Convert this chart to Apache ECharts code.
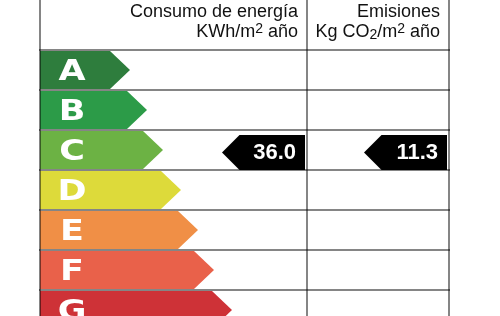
<!DOCTYPE html>
<html><head><meta charset="utf-8">
<script src="https://cdn.jsdelivr.net/npm/echarts@6/dist/echarts.min.js"></script>
<style>html,body{margin:0;padding:0;background:#fff}#c{width:500px;height:316px}</style>
</head><body><div id="c"></div>
<script>
const categories = ['A', 'B', 'C', 'D', 'E', 'F', 'G'];
const arrowLengths = [90, 107, 123, 141, 158, 174, 192];
const ratingColors = ['#2e7d3d', '#2c9b48', '#6cb244', '#ddda3a', '#f08f46', '#e9614a', '#ce3237'];
const columnEdges = [0, 267, 409];
const columnTitles = [
  '{n|Consumo de energía}\n{n|KWh/m}{sup|2}{n| año}',
  '{n|Emisiones}\n{n|Kg CO}{sub|2}{n|/m}{sup|2}{n| año}'
];
const markerRatings = ['C', 'C'];
const markerValues = [36.0, 11.3];

const chart = echarts.init(document.getElementById('c'), null, { renderer: 'canvas' });
const lineColor = 'rgba(0,0,0,0.48)';
const headerRich = {
  n: { fontSize: 18, lineHeight: 20, fontFamily: 'Liberation Sans', fill: '#111', color: '#111' },
  sup: { fontSize: 14, lineHeight: 14, verticalAlign: 'top', fontFamily: 'Liberation Sans', fill: '#111', color: '#111' },
  sub: { fontSize: 14, lineHeight: 11, verticalAlign: 'bottom', fontFamily: 'Liberation Sans', fill: '#111', color: '#111' }
};

chart.setOption({
  animation: false,
  grid: { left: 40, top: 0, width: 409, height: 316 },
  xAxis: { type: 'value', min: 0, max: 409, show: false },
  yAxis: { type: 'value', min: -1.25, max: 6.65, inverse: true, show: false },
  series: [
    {
      type: 'custom', clip: false, z: 1,
      data: categories.map((c, i) => [i, arrowLengths[i]]),
      renderItem(params, api) {
        const i = api.value(0), len = api.value(1);
        const p0 = api.coord([0, i]);
        const p1 = api.coord([len, i + 1]);
        const top = p0[1] + 1, bot = p1[1] - 1, mid = (top + bot) / 2, half = (bot - top) / 2;
        const x0 = p0[0], tip = p1[0], re = tip - half - 1;
        return {
          type: 'group', children: [
            { type: 'polygon', shape: { points: [[x0, top], [re, top], [tip, mid], [re, bot], [x0, bot]] },
              style: { fill: ratingColors[i] } },
            { type: 'text', x: x0 + 32, y: mid + 2.5, scaleX: 1.25,
              style: { text: categories[i], fill: '#fff', fontSize: 28, fontWeight: 'bold',
                fontFamily: 'DejaVu Sans', align: 'center', verticalAlign: 'middle' } }
          ]
        };
      }
    },
    {
      type: 'custom', clip: false, z: 2,
      data: [[0]],
      renderItem(params, api) {
        const children = [];
        for (let r = 0; r <= categories.length; r++) {
          const a = api.coord([columnEdges[0], r]), b = api.coord([columnEdges[2], r]);
          children.push({ type: 'line', shape: { x1: a[0] - 1, y1: a[1], x2: b[0] + 1, y2: b[1] },
            style: { stroke: lineColor, lineWidth: 2 } });
        }
        columnEdges.forEach(e => {
          const a = api.coord([e, -1.25]), b = api.coord([e, categories.length]);
          children.push({ type: 'line', shape: { x1: a[0], y1: a[1], x2: b[0], y2: b[1] },
            style: { stroke: lineColor, lineWidth: 2 } });
        });
        return { type: 'group', children };
      }
    },
    {
      type: 'custom', clip: false, z: 3,
      data: columnTitles.map((t, k) => [k]),
      renderItem(params, api) {
        const k = api.value(0);
        const p = api.coord([columnEdges[k + 1], -1.25]);
        return { type: 'text', x: p[0] - 9, y: p[1] + 2.5,
          style: { text: columnTitles[k], rich: headerRich, align: 'right', verticalAlign: 'top',
            fontSize: 18, fontFamily: 'Liberation Sans', fill: '#111' } };
      }
    },
    {
      type: 'custom', clip: false, z: 4,
      data: markerValues.map((v, k) => [categories.indexOf(markerRatings[k]), v, k]),
      renderItem(params, api) {
        const i = api.value(0), v = api.value(1), k = api.value(2);
        const pt = api.coord([columnEdges[k + 1], i]);
        const pb = api.coord([columnEdges[k + 1], i + 1]);
        const right = pt[0] - 2, top = pt[1] + 5, bot = pb[1];
        const mid = (top + bot) / 2, half = (bot - top) / 2;
        const tip = right - 83, rs = tip + half;
        return {
          type: 'group', children: [
            { type: 'polygon', shape: { points: [[tip, mid], [rs, top], [right, top], [right, bot], [rs, bot]] },
              style: { fill: '#000' } },
            { type: 'text', x: right - 9, y: mid + 0.5,
              style: { text: v.toFixed(1), fill: '#fff', fontSize: 22, fontWeight: 'bold',
                fontFamily: 'Liberation Sans', align: 'right', verticalAlign: 'middle' } }
          ]
        };
      }
    }
  ]
});
</script></body></html>
